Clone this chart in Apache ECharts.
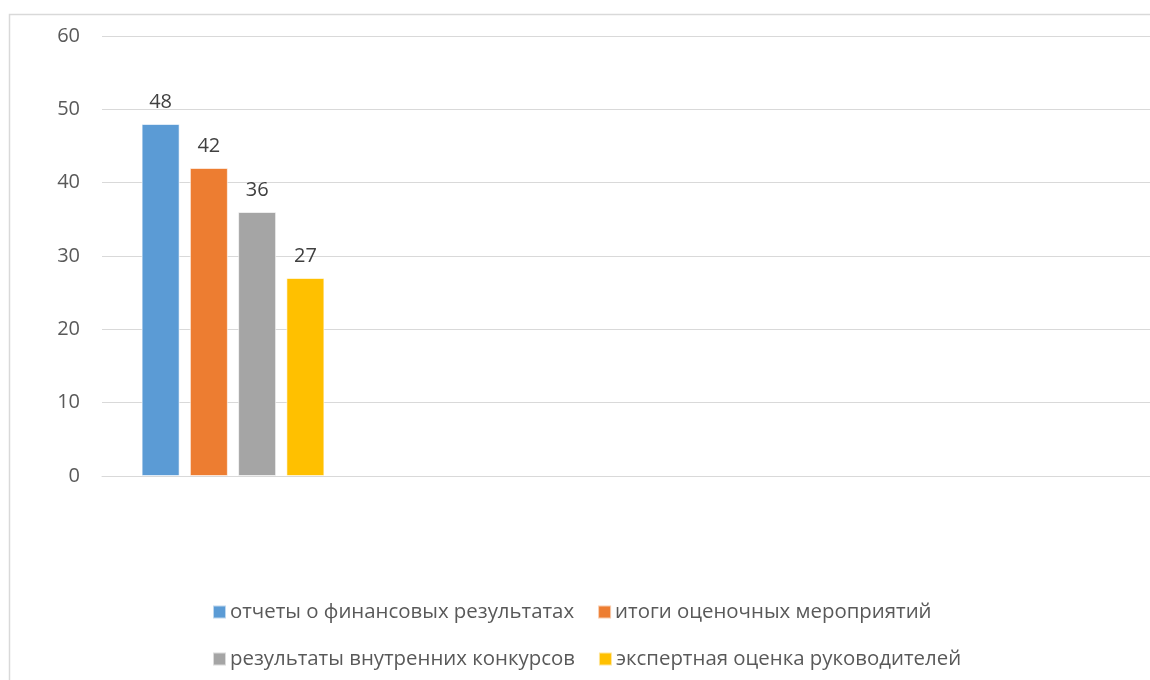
<!DOCTYPE html>
<html><head><meta charset="utf-8">
<script src="https://cdn.jsdelivr.net/npm/echarts@6/dist/echarts.min.js"></script>
<style>html,body{margin:0;padding:0;background:#fff}#c{width:1150px;height:680px}</style>
</head><body><div id="c"></div>
<script>
var categories = ['', '', '', ''];
var seriesNames = ['отчеты о финансовых результатах', 'итоги оценочных мероприятий', 'результаты внутренних конкурсов', 'экспертная оценка руководителей'];
var values1 = [48, null, null, null];
var values2 = [42, null, null, null];
var values3 = [36, null, null, null];
var values4 = [27, null, null, null];
var colors = ['#5b9bd5', '#ed7d31', '#a5a5a5', '#ffc000'];
var allValues = [values1, values2, values3, values4];
var font = 'Open Sans';
var chart = echarts.init(document.getElementById('c'), null, {renderer: 'canvas'});
var series = allValues.map(function (v, i) {
  return {
    name: seriesNames[i], type: 'bar', data: v, barWidth: 38, barGap: '27%',
    itemStyle: {color: colors[i], borderColor: 'rgba(255,255,255,0.6)', borderWidth: 1},
    label: {show: true, position: 'top', distance: 12, color: '#404040', fontSize: 20, fontFamily: font},
    emphasis: {disabled: true}, animation: false
  };
});
chart.setOption({
  animation: false,
  color: colors,
  graphic: [{type: 'rect', shape: {x: 9.5, y: 14.5, width: 1200, height: 700}, style: {fill: 'none', stroke: '#d9d9d9', lineWidth: 1.5}, silent: true}],
  grid: {left: 102, width: 1066, top: 36, bottom: 204, containLabel: false},
  legend: [
    {data: [seriesNames[0], seriesNames[1]], left: 207, top: 597, itemWidth: 13, itemHeight: 13, itemGap: 23, icon: 'rect',
     textStyle: {fontSize: 20.4, color: '#595959', fontFamily: font, padding: [0,0,0,-1]}},
    {data: [seriesNames[2], seriesNames[3]], left: 207, top: 644, itemWidth: 13, itemHeight: 13, itemGap: 23, icon: 'rect',
     textStyle: {fontSize: 20.4, color: '#595959', fontFamily: font, padding: [0,0,0,-1]}}
  ],
  xAxis: {type: 'category', data: categories, axisLine: {lineStyle: {color: '#d9d9d9', width: 1}}, axisTick: {show: false}, axisLabel: {show: false}},
  yAxis: {type: 'value', min: 0, max: 60, interval: 10,
    axisLine: {show: false}, axisTick: {show: false},
    axisLabel: {color: '#595959', fontSize: 20, fontFamily: font, margin: 22},
    splitLine: {lineStyle: {color: '#d9d9d9', width: 1}}},
  series: series
});
</script></body></html>
